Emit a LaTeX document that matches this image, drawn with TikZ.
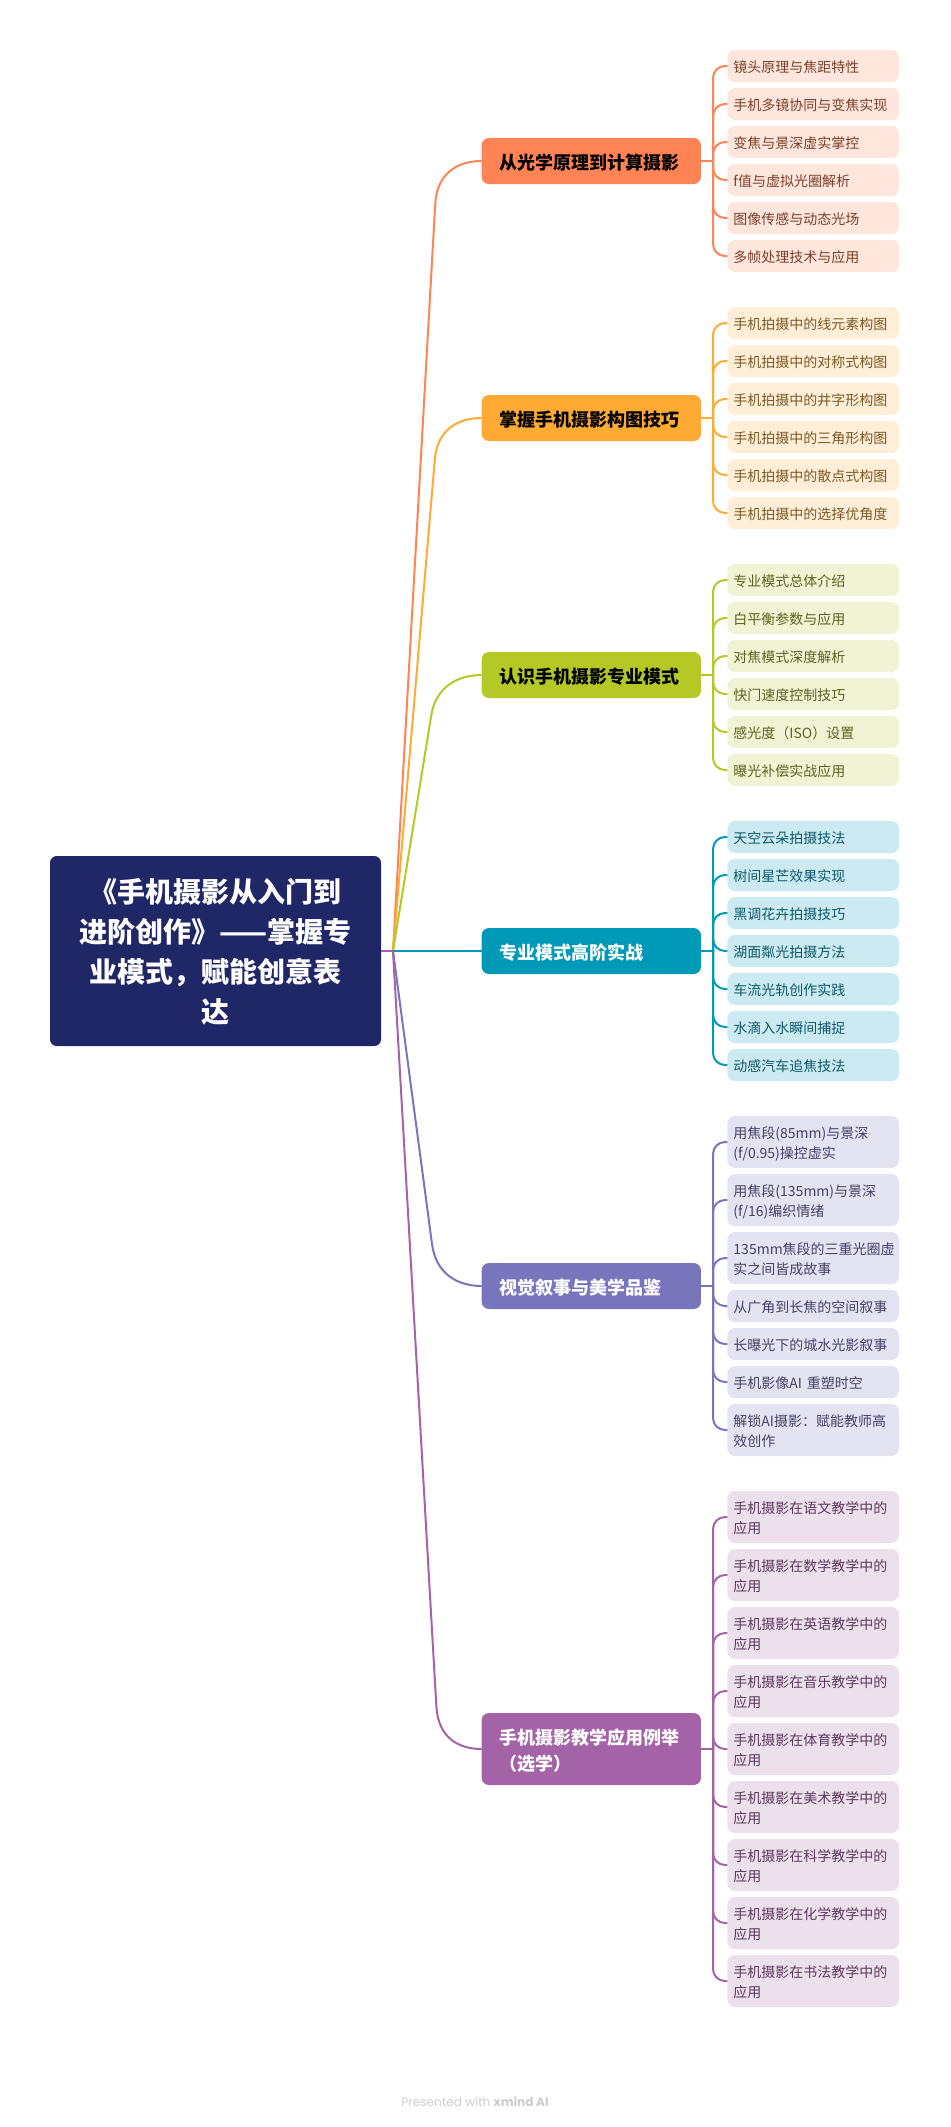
\documentclass[tikz,border=0pt]{standalone}
\usepackage{fontspec}
\usepackage{xcolor}
\usetikzlibrary{positioning}
\setmainfont{Noto Sans CJK SC}
\newfontfamily\footfont{Poppins}
\definecolor{rootfill}{HTML}{1F2766}
\definecolor{c1}{HTML}{FF8355}
\definecolor{c2}{HTML}{FFAB33}
\definecolor{c3}{HTML}{B5C926}
\definecolor{c4}{HTML}{0099B8}
\definecolor{c5}{HTML}{7975BC}
\definecolor{c6}{HTML}{A463A6}
\definecolor{c1fill}{HTML}{FFE6DD}
\definecolor{c2fill}{HTML}{FFEED7}
\definecolor{c3fill}{HTML}{F0F4D4}
\definecolor{c4fill}{HTML}{CCEAF1}
\definecolor{c5fill}{HTML}{E4E3F1}
\definecolor{c6fill}{HTML}{EDE0ED}
\definecolor{c1text}{HTML}{7A3F2A}
\definecolor{c2text}{HTML}{7A5A26}
\definecolor{c3text}{HTML}{5B6420}
\definecolor{c4text}{HTML}{0E5A6B}
\definecolor{c5text}{HTML}{454365}
\definecolor{c6text}{HTML}{5B3A5C}
\tikzset{
  root/.style={fill=rootfill,text=white,rounded corners=5pt,minimum width=248.25pt,minimum height=142.5pt,inner sep=0pt,align=center,font=\fontsize{21}{30}\selectfont\bfseries},
  branch/.style={fill=#1,rounded corners=5.5pt,minimum width=164.5pt,minimum height=34.5pt,inner ysep=0pt,inner xsep=13.65pt,text width=137.2pt,align=left,font=\fontsize{13.5}{19.5}\selectfont\bfseries,execute at begin node={\rule[-2.5pt]{0pt}{17pt}}},
  leaf/.style={fill=#1fill,text=#1text,rounded corners=5.5pt,minimum width=128.6pt,minimum height=24pt,inner ysep=0pt,inner xsep=4.5pt,text width=119.6pt,align=left,font=\fontsize{10.5}{15}\selectfont,execute at begin node={\rule[-2.2pt]{0pt}{13.4pt}}},
  tall/.style={minimum height=39pt},
  link/.style={draw=#1,line width=1.5pt,rounded corners=9pt},
  main/.style={draw=#1,line width=1.5pt},
  elbow/.style={to path={|- (\tikztotarget)}}
}
\begin{document}
\begin{tikzpicture}[x=.75pt,y=-.75pt,node distance=4.5pt,outer sep=0pt]
	\useasboundingbox (0,0) rectangle (950,2127);

	\node[root] (root) at (215.5,951) {\rule{0pt}{20pt}《手机摄影从入门到\\进阶创作》——掌握专\\业模式，赋能创意表\\达};
	\coordinate (hub) at (393,951);

	\node[branch=c1] (b1) at (591.3,161) {从光学原理到计算摄影};
	\node[branch=c2] (b2) at (591.3,418) {掌握手机摄影构图技巧};
	\node[branch=c3] (b3) at (591.3,675) {认识手机摄影专业模式};
	\node[branch=c4,text=white] (b4) at (591.3,951) {专业模式高阶实战};
	\node[branch=c5,text=white] (b5) at (591.3,1286) {视觉叙事与美学品鉴};
	\node[branch=c6,text=white,minimum height=54pt] (b6) at (591.3,1749) {手机摄影教学应用例举\\（选学）};

	\node[leaf=c1] (a1) at (813.2,66) {镜头原理与焦距特性};
	\node[leaf=c1] (a2) [below=of a1] {手机多镜协同与变焦实现};
	\node[leaf=c1] (a3) [below=of a2] {变焦与景深虚实掌控};
	\node[leaf=c1] (a4) [below=of a3] {f值与虚拟光圈解析};
	\node[leaf=c1] (a5) [below=of a4] {图像传感与动态光场};
	\node[leaf=c1] (a6) [below=of a5] {多帧处理技术与应用};

	\node[leaf=c2] (d1) at (813.2,323) {手机拍摄中的线元素构图};
	\node[leaf=c2] (d2) [below=of d1] {手机拍摄中的对称式构图};
	\node[leaf=c2] (d3) [below=of d2] {手机拍摄中的井字形构图};
	\node[leaf=c2] (d4) [below=of d3] {手机拍摄中的三角形构图};
	\node[leaf=c2] (d5) [below=of d4] {手机拍摄中的散点式构图};
	\node[leaf=c2] (d6) [below=of d5] {手机拍摄中的选择优角度};

	\node[leaf=c3] (e1) at (813.2,580) {专业模式总体介绍};
	\node[leaf=c3] (e2) [below=of e1] {白平衡参数与应用};
	\node[leaf=c3] (e3) [below=of e2] {对焦模式深度解析};
	\node[leaf=c3] (e4) [below=of e3] {快门速度控制技巧};
	\node[leaf=c3] (e5) [below=of e4] {感光度（ISO）设置};
	\node[leaf=c3] (e6) [below=of e5] {曝光补偿实战应用};

	\node[leaf=c4] (f1) at (813.2,837) {天空云朵拍摄技法};
	\node[leaf=c4] (f2) [below=of f1] {树间星芒效果实现};
	\node[leaf=c4] (f3) [below=of f2] {黑调花卉拍摄技巧};
	\node[leaf=c4] (f4) [below=of f3] {湖面粼光拍摄方法};
	\node[leaf=c4] (f5) [below=of f4] {车流光轨创作实践};
	\node[leaf=c4] (f6) [below=of f5] {水滴入水瞬间捕捉};
	\node[leaf=c4] (f7) [below=of f6] {动感汽车追焦技法};

	\node[leaf=c5,tall] (g1) at (813.2,1142) {用焦段(85mm)与景深\\(f/0.95)操控虚实};
	\node[leaf=c5,tall] (g2) [below=of g1] {用焦段(135mm)与景深\\(f/16)编织情绪};
	\node[leaf=c5,tall] (g3) [below=of g2] {135mm焦段的三重光圈虚\\实之间皆成故事};
	\node[leaf=c5] (g4) [below=of g3] {从广角到长焦的空间叙事};
	\node[leaf=c5] (g5) [below=of g4] {长曝光下的城水光影叙事};
	\node[leaf=c5] (g6) [below=of g5] {手机影像AI 重塑时空};
	\node[leaf=c5,tall] (g7) [below=of g6] {解锁AI摄影：赋能教师高\\效创作};

	\node[leaf=c6,tall] (h1) at (813.2,1517) {手机摄影在语文教学中的\\应用};
	\node[leaf=c6,tall] (h2) [below=of h1] {手机摄影在数学教学中的\\应用};
	\node[leaf=c6,tall] (h3) [below=of h2] {手机摄影在英语教学中的\\应用};
	\node[leaf=c6,tall] (h4) [below=of h3] {手机摄影在音乐教学中的\\应用};
	\node[leaf=c6,tall] (h5) [below=of h4] {手机摄影在体育教学中的\\应用};
	\node[leaf=c6,tall] (h6) [below=of h5] {手机摄影在美术教学中的\\应用};
	\node[leaf=c6,tall] (h7) [below=of h6] {手机摄影在科学教学中的\\应用};
	\node[leaf=c6,tall] (h8) [below=of h7] {手机摄影在化学教学中的\\应用};
	\node[leaf=c6,tall] (h9) [below=of h8] {手机摄影在书法教学中的\\应用};

	\node[text=black!20,font=\footfont\fontsize{9.1}{10}\selectfont] (foot) at (475,2102) {Presented with \textbf{xmind AI}};

	% root to branches
	\coordinate (k1) at (435.3,203);
	\coordinate (k2) at (434.8,460);
	\coordinate (k3) at (431,717);
	\coordinate (k5) at (432,1244);
	\coordinate (k6) at (436.4,1707);
	\draw[main=c1] (hub) -- (k1) .. controls +(2,-30) and +(-24,0) .. (b1.west);
	\draw[main=c2] (hub) -- (k2) .. controls +(2,-30) and +(-24,0) .. (b2.west);
	\draw[main=c3] (hub) -- (k3) .. controls +(4,-30) and +(-24,0) .. (b3.west);
	\draw[main=c4] (hub) -- (b4.west);
	\draw[main=c5] (hub) -- (k5) .. controls +(4,30) and +(-24,0) .. (b5.west);
	\draw[main=c6] (hub) -- (k6) .. controls +(2,30) and +(-24,0) .. (b6.west);
	\draw[main=c6] (root.east) -- (hub);

	% branches to leaves
	\coordinate (t1) at (713,161);
	\coordinate (t2) at (713,418);
	\coordinate (t3) at (713,675);
	\coordinate (t4) at (713,951);
	\coordinate (t5) at (713,1286);
	\coordinate (t6) at (713,1749);
	\draw[link=c1] (b1.east) -- (t1)
		(t1) edge[elbow] (a1.west)
		(t1) edge[elbow] (a2.west)
		(t1) edge[elbow] (a3.west)
		(t1) edge[elbow] (a4.west)
		(t1) edge[elbow] (a5.west)
		(t1) edge[elbow] (a6.west);
	\draw[link=c2] (b2.east) -- (t2)
		(t2) edge[elbow] (d1.west)
		(t2) edge[elbow] (d2.west)
		(t2) edge[elbow] (d3.west)
		(t2) edge[elbow] (d4.west)
		(t2) edge[elbow] (d5.west)
		(t2) edge[elbow] (d6.west);
	\draw[link=c3] (b3.east) -- (t3)
		(t3) edge[elbow] (e1.west)
		(t3) edge[elbow] (e2.west)
		(t3) edge[elbow] (e3.west)
		(t3) edge[elbow] (e4.west)
		(t3) edge[elbow] (e5.west)
		(t3) edge[elbow] (e6.west);
	\draw[link=c4] (b4.east) -- (t4)
		(t4) edge[elbow] (f1.west)
		(t4) edge[elbow] (f2.west)
		(t4) edge[elbow] (f3.west)
		(t4) edge[elbow] (f4.west)
		(t4) edge[elbow] (f5.west)
		(t4) edge[elbow] (f6.west)
		(t4) edge[elbow] (f7.west);
	\draw[link=c5] (b5.east) -- (t5)
		(t5) edge[elbow] (g1.west)
		(t5) edge[elbow] (g2.west)
		(t5) edge[elbow] (g3.west)
		(t5) edge[elbow] (g4.west)
		(t5) edge[elbow] (g5.west)
		(t5) edge[elbow] (g6.west)
		(t5) edge[elbow] (g7.west);
	\draw[link=c6] (b6.east) -- (t6)
		(t6) edge[elbow] (h1.west)
		(t6) edge[elbow] (h2.west)
		(t6) edge[elbow] (h3.west)
		(t6) edge[elbow] (h4.west)
		(t6) edge[elbow] (h5.west)
		(t6) edge[elbow] (h6.west)
		(t6) edge[elbow] (h7.west)
		(t6) edge[elbow] (h8.west)
		(t6) edge[elbow] (h9.west);
\end{tikzpicture}
\end{document}
